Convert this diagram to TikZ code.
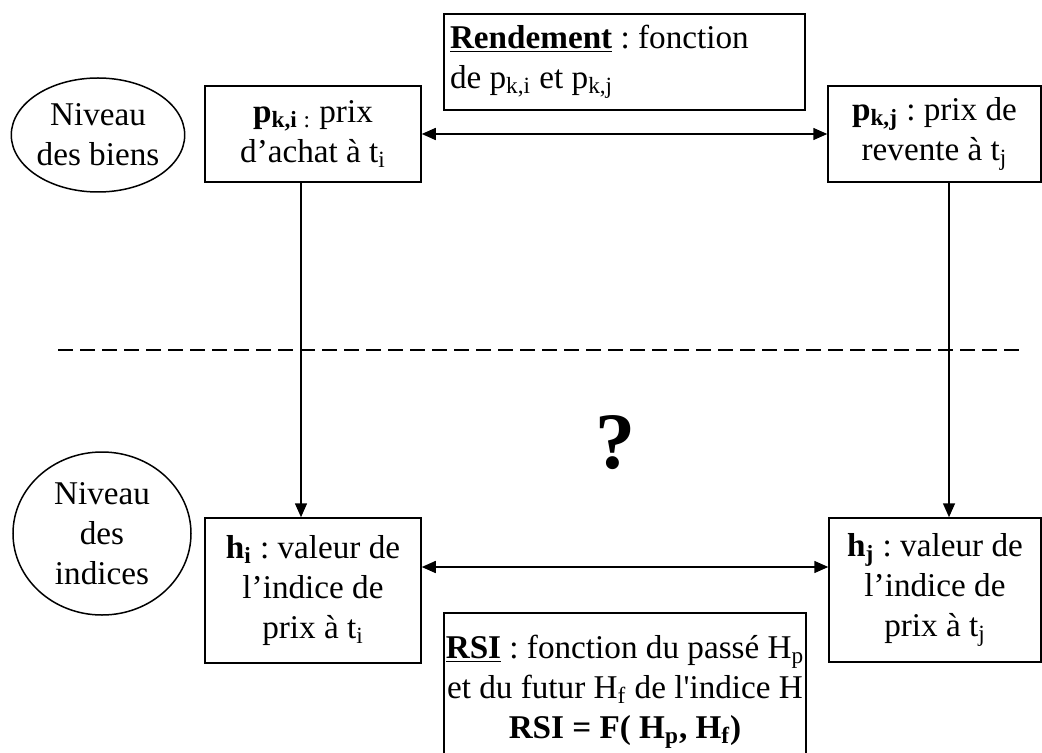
\documentclass[tikz,border=0pt]{standalone}
\usepackage{fontspec}
\setmainfont{Liberation Serif}[Ligatures=TeXOff]
\usetikzlibrary{shapes.geometric,arrows.meta}
\begin{document}
\frenchspacing
\begin{tikzpicture}[x=0.5pt,y=-0.5pt,
  every node/.style={font=\fontsize{16.6}{20}\selectfont},
  box/.style={draw,line width=0.75pt,inner sep=0pt,align=center},
  lvl/.style={draw,ellipse,line width=0.75pt,inner sep=0pt,align=center},
  conn/.style={line width=0.75pt,-{Triangle[length=7pt,width=6pt]}},
  dconn/.style={line width=0.75pt,{Triangle[length=7pt,width=6pt]}-{Triangle[length=7pt,width=6pt]}}]
\clip (0,0) rectangle (1042,753);
\node[lvl,minimum width=85pt,minimum height=57pt] (ell1) at (98,135) {Niveau\\des biens};
\node[box,minimum width=108pt,minimum height=48pt] (pki) at (313,134)
  {\textbf{p\textsubscript{k,i}}\textsubscript{ :} prix\\d’achat à t\textsubscript{i}};
\node[box,minimum width=180.5pt,minimum height=48pt,text width=174.5pt,align=flush left,inner sep=3pt] (rend) at (624.5,62)
  {\underline{\textbf{Rendement}} : fonction\\de p\textsubscript{k,i} et p\textsubscript{k,j}};
\node[box,minimum width=106.5pt,minimum height=48pt] (pkj) at (934.5,134)
  {\textbf{p\textsubscript{k,j}} : prix de\\revente à t\textsubscript{j}};
\node[lvl,minimum width=89pt,minimum height=81.5pt] (ell2) at (102,533.5) {Niveau\\des\\indices};
\node[box,minimum width=108pt,minimum height=72.5pt] (hi) at (313,590.5)
  {\textbf{h\textsubscript{i}} : valeur de\\l’indice de\\prix à t\textsubscript{i}};
\node[box,minimum width=106pt,minimum height=72pt] (hj) at (935,590)
  {\textbf{h\textsubscript{j}} : valeur de\\l’indice de\\prix à t\textsubscript{j}};
\node[box,minimum width=181pt,minimum height=78.5pt] (rsi) at (625,691.5)
  {\underline{\textbf{RSI}} : fonction du passé H\textsubscript{p}\\et du futur H\textsubscript{f} de l'indice H\\\textbf{RSI = F( H\textsubscript{p}, H\textsubscript{f})}};
\node[font=\fontsize{40}{40}\selectfont\bfseries] (q) at (615,443) {?};
\coordinate (lx) at (301,0);
\coordinate (rx) at (949,0);
\coordinate (by) at (0,567);
\coordinate (d1) at (58,350);
\coordinate (d2) at (1019,350);
\draw[dconn] (pki.east) -- (pkj.west);
\draw[conn] (pki.south -| lx) -- (hi.north -| lx);
\draw[conn] (pkj.south -| rx) -- (hj.north -| rx);
\draw[dconn] (hi.east |- by) -- (hj.west |- by);
\draw[line width=1.1pt,dash pattern=on 7.5pt off 3.5pt] (d1) -- (d2);
\end{tikzpicture}
\end{document}
